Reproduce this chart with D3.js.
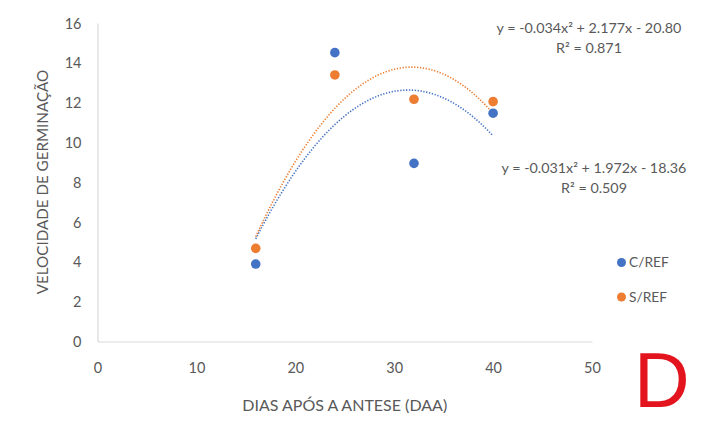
<!DOCTYPE html>
<html>
<head>
<meta charset="utf-8">
<script src="https://cdn.jsdelivr.net/npm/d3@7/dist/d3.min.js"></script>
<style>
  html, body { margin: 0; padding: 0; background: #fff; }
  svg { display: block; }
  text { font-family: Lato, "Open Sans", sans-serif; fill: #595959; }
</style>
</head>
<body>
<svg id="chart" width="709" height="425"></svg>
<script>
// Days after anthesis at which seeds were sampled
const days = [16, 24, 32, 40];
// Germination speed, with and without refrigeration
const cRef = [3.89, 14.51, 8.95, 11.47];
const sRef = [4.68, 13.39, 12.17, 12.05];
const seriesNames = ["C/REF", "S/REF"];
const seriesColors = ["#4472C4", "#ED7D31"];
// Polynomial trendlines (order 2): [x², x, constant]
const cRefFit = [-0.03137, 1.972, -18.36];
const sRefFit = [-0.03426, 2.177, -20.80];
const cRefR2 = 0.509;
const sRefR2 = 0.871;
// Axis ticks
const xTicks = [0, 10, 20, 30, 40, 50];
const yTicks = [0, 2, 4, 6, 8, 10, 12, 14, 16];

const svg = d3.select("#chart");
const x = d3.scaleLinear().domain([0, 50]).range([97.5, 592]);
const y = d3.scaleLinear().domain([0, 16]).range([341.5, 23]);

// Axes: light grey lines, no tick marks
const xAxis = d3.axisBottom(x).tickValues(xTicks).tickSize(0).tickPadding(21);
const yAxis = d3.axisLeft(y).tickValues(yTicks).tickSize(0).tickPadding(16);

const gx = svg.append("g").attr("transform", `translate(0,${y(0)})`).call(xAxis);
const gy = svg.append("g").attr("transform", `translate(${x(0)},0)`).call(yAxis);
[gx, gy].forEach(g => {
  g.select(".domain").attr("stroke", "#D9D9D9").attr("stroke-width", 1.2);
  g.selectAll(".tick text").style("font-size", "14.5px").attr("fill", "#595959");
});
gy.selectAll(".tick text").attr("dy", "0.35em");

// Axis titles
svg.append("text")
  .attr("x", x(25)).attr("y", 411)
  .attr("text-anchor", "middle")
  .style("font-size", "16px")
  .text("DIAS APÓS A ANTESE (DAA)");

svg.append("text")
  .attr("transform", `translate(48,182) rotate(-90)`)
  .attr("text-anchor", "middle")
  .style("font-size", "15.2px")
  .text("VELOCIDADE DE GERMINAÇÃO");

// Dotted trendlines
const fits = [cRefFit, sRefFit];
const poly = (c, v) => c[0] * v * v + c[1] * v + c[2];
const xs = d3.range(days[0], days[days.length - 1] + 0.001, 0.25);
const line = d3.line().x(d => x(d[0])).y(d => y(d[1])).curve(d3.curveLinear);
fits.forEach((c, i) => {
  svg.append("path")
    .datum(xs.map(v => [v, poly(c, v)]))
    .attr("d", line)
    .attr("fill", "none")
    .attr("stroke", seriesColors[i])
    .attr("stroke-width", 1.6)
    .attr("stroke-dasharray", "1.3 1.6");
});

// Data points
[cRef, sRef].forEach((vals, i) => {
  svg.append("g").selectAll("circle")
    .data(vals.map((v, j) => [days[j], v]))
    .join("circle")
    .attr("cx", d => x(d[0]))
    .attr("cy", d => y(d[1]))
    .attr("r", 4.8)
    .attr("fill", seriesColors[i]);
});

// Trendline equations
const eq = c => `y = ${c[0].toFixed(3)}x² + ${c[1].toFixed(3)}x ${c[2] < 0 ? "-" : "+"} ${Math.abs(c[2]).toFixed(2)}`;
const labels = [
  { fit: sRefFit, r2: sRefR2, cx: 589, cy: 33 },
  { fit: cRefFit, r2: cRefR2, cx: 594, cy: 173 }
];
labels.forEach(l => {
  svg.append("text").attr("x", l.cx).attr("y", l.cy)
    .attr("text-anchor", "middle").style("font-size", "14.3px")
    .text(eq(l.fit));
  svg.append("text").attr("x", l.cx).attr("y", l.cy + 19.5)
    .attr("text-anchor", "middle").style("font-size", "14.3px")
    .text("R² = " + l.r2.toFixed(3));
});

// Legend
const legend = svg.append("g");
seriesNames.forEach((name, i) => {
  const ly = 262.5 + i * 34.5;
  legend.append("circle").attr("cx", 621.5).attr("cy", ly).attr("r", 4.5).attr("fill", seriesColors[i]);
  legend.append("text").attr("x", 629).attr("y", ly).attr("dy", "0.36em")
    .style("font-size", "13.8px").text(name);
});

// Panel letter
svg.append("text")
  .attr("x", 634).attr("y", 407)
  .style("font-family", "'Liberation Sans', Arial, sans-serif")
  .style("font-size", "77px")
  .style("fill", "#E3141E")
  .text("D");
</script>
</body>
</html>
